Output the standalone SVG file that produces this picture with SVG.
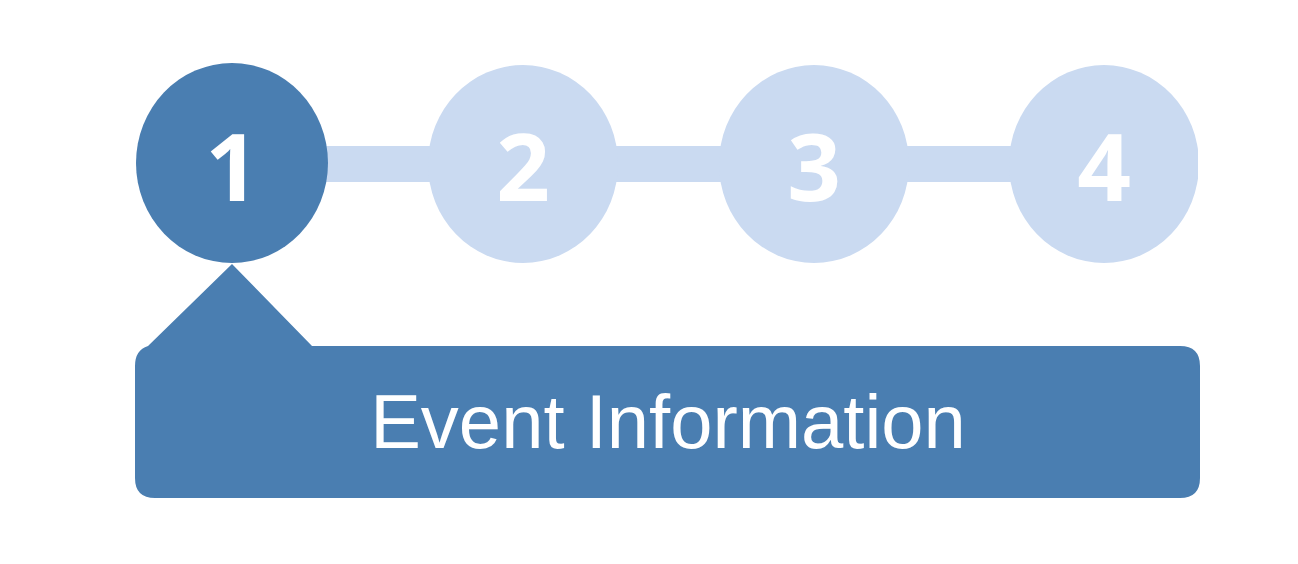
<svg xmlns="http://www.w3.org/2000/svg" width="1298" height="564" viewBox="0 0 1298 564">
<style>
.dark{fill:#4A7EB1}
.light{fill:#CADAF1}
.num{font-family:"Open Sans","DejaVu Sans",sans-serif;font-weight:bold;font-size:94px;fill:#FFFFFF;text-anchor:middle}
.lbl{font-family:"Liberation Sans",Arial,sans-serif;font-size:76px;fill:#FFFFFF;text-anchor:middle}
</style>
<defs>
<clipPath id="clipRight"><rect x="0" y="0" width="1198" height="564"/></clipPath>
</defs>
<rect width="1298" height="564" fill="#FFFFFF"/>
<g id="connectors">
<rect class="light" x="320" y="146" width="790" height="36"/>
</g>
<g id="step1">
<ellipse class="dark" cx="232" cy="163" rx="96" ry="100"/>
<text class="num" x="232" y="201">1</text>
</g>
<g id="step2">
<ellipse class="light" cx="523" cy="164" rx="95" ry="99"/>
<text class="num" x="523" y="201">2</text>
</g>
<g id="step3">
<ellipse class="light" cx="814" cy="164" rx="95" ry="99"/>
<text class="num" x="814" y="201">3</text>
</g>
<g id="step4" clip-path="url(#clipRight)">
<ellipse class="light" cx="1104" cy="164" rx="95" ry="99"/>
<text class="num" x="1104" y="201">4</text>
</g>
<g id="callout">
<path class="dark" d="M232,264 L312,346 L1180,346 Q1200,346 1200,366 L1200,478 Q1200,498 1180,498 L155,498 Q135,498 135,478 L135,366 Q135,350 148,346 Z"/>
<text class="lbl" x="668" y="448">Event Information</text>
</g>
</svg>
